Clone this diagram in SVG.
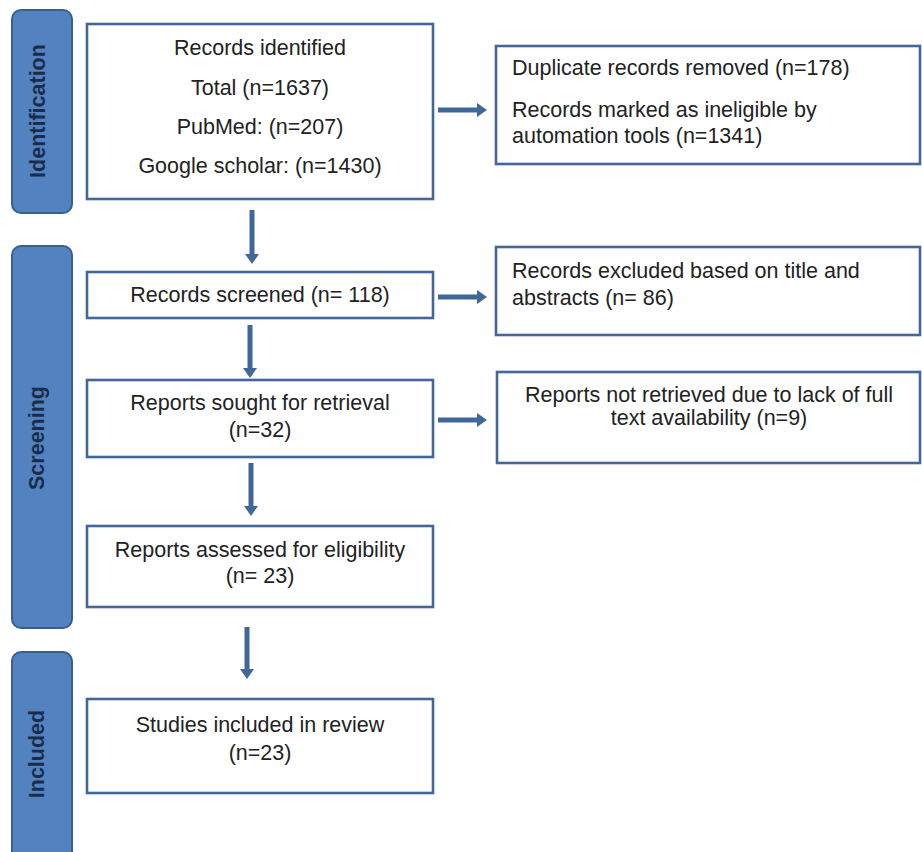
<svg xmlns="http://www.w3.org/2000/svg" width="922" height="852" viewBox="0 0 922 852">
<style>
.bg{fill:#ffffff}
.side{fill:#5283c0;stroke:#3b5f8c;stroke-width:2}
.stxt{font-family:"Liberation Sans",Arial,sans-serif;font-size:21.5px;font-weight:bold;fill:#1a2c4b;text-anchor:middle}
.box{fill:#ffffff;stroke:#43679a;stroke-width:2.6}
.t{font-family:"Liberation Sans",Arial,sans-serif;font-size:21.5px;fill:#222222}
.c{text-anchor:middle}
.arr{stroke:#3f6797;stroke-width:5;fill:none}
</style>
<defs>
<marker id="ah" markerUnits="userSpaceOnUse" markerWidth="12" markerHeight="16" refX="0" refY="8" orient="auto">
<path d="M0,1 L10,8 L0,15 Z" fill="#3f6797"/>
</marker>
</defs>
<rect class="bg" x="0" y="0" width="922" height="852"/>
<g id="phase-identification">
<rect class="side" x="12" y="10" width="60" height="203" rx="9"/>
<text class="stxt" transform="translate(45,111) rotate(-90)">Identification</text>
</g>
<g id="phase-screening">
<rect class="side" x="12" y="246" width="60" height="382" rx="9"/>
<text class="stxt" transform="translate(44,438) rotate(-90)">Screening</text>
</g>
<g id="phase-included">
<rect class="side" x="12" y="652" width="60" height="210" rx="9"/>
<text class="stxt" transform="translate(44,754) rotate(-90)">Included</text>
</g>
<g id="node-identified">
<rect class="box" x="87" y="24" width="346" height="175"/>
<text class="t c" x="260" y="55">Records identified</text>
<text class="t c" x="260" y="95">Total (n=1637)</text>
<text class="t c" x="260" y="134">PubMed: (n=207)</text>
<text class="t c" x="260" y="173">Google scholar: (n=1430)</text>
</g>
<g id="node-removed">
<rect class="box" x="496" y="46" width="424" height="118"/>
<text class="t" x="512" y="75">Duplicate records removed (n=178)</text>
<text class="t" x="512" y="117">Records marked as ineligible by</text>
<text class="t" x="512" y="143">automation tools (n=1341)</text>
</g>
<g id="node-screened">
<rect class="box" x="87" y="272" width="346" height="46"/>
<text class="t c" x="260" y="302">Records screened (n= 118)</text>
</g>
<g id="node-excluded">
<rect class="box" x="496" y="247" width="424" height="88"/>
<text class="t" x="512" y="278">Records excluded based on title and</text>
<text class="t" x="512" y="305">abstracts (n= 86)</text>
</g>
<g id="node-sought">
<rect class="box" x="87" y="380" width="346" height="77"/>
<text class="t c" x="260" y="410">Reports sought for retrieval</text>
<text class="t c" x="260" y="437">(n=32)</text>
</g>
<g id="node-notretrieved">
<rect class="box" x="497" y="372" width="423" height="91"/>
<text class="t c" x="709" y="402">Reports not retrieved due to lack of full</text>
<text class="t c" x="709" y="425">text availability (n=9)</text>
</g>
<g id="node-assessed">
<rect class="box" x="87" y="526" width="346" height="81"/>
<text class="t c" x="260" y="557">Reports assessed for eligibility</text>
<text class="t c" x="260" y="583">(n= 23)</text>
</g>
<g id="node-included">
<rect class="box" x="87" y="699" width="346" height="94"/>
<text class="t c" x="260" y="732">Studies included in review</text>
<text class="t c" x="260" y="760">(n=23)</text>
</g>
<g id="connectors">
<line class="arr" x1="252" y1="210" x2="252" y2="254" marker-end="url(#ah)"/>
<line class="arr" x1="250" y1="325" x2="250" y2="368" marker-end="url(#ah)"/>
<line class="arr" x1="251" y1="463" x2="251" y2="506" marker-end="url(#ah)"/>
<line class="arr" x1="247" y1="627" x2="247" y2="669" marker-end="url(#ah)"/>
<line class="arr" x1="438" y1="110" x2="477" y2="110" marker-end="url(#ah)"/>
<line class="arr" x1="438" y1="297" x2="477" y2="297" marker-end="url(#ah)"/>
<line class="arr" x1="438" y1="420" x2="477" y2="420" marker-end="url(#ah)"/>
</g>
</svg>
